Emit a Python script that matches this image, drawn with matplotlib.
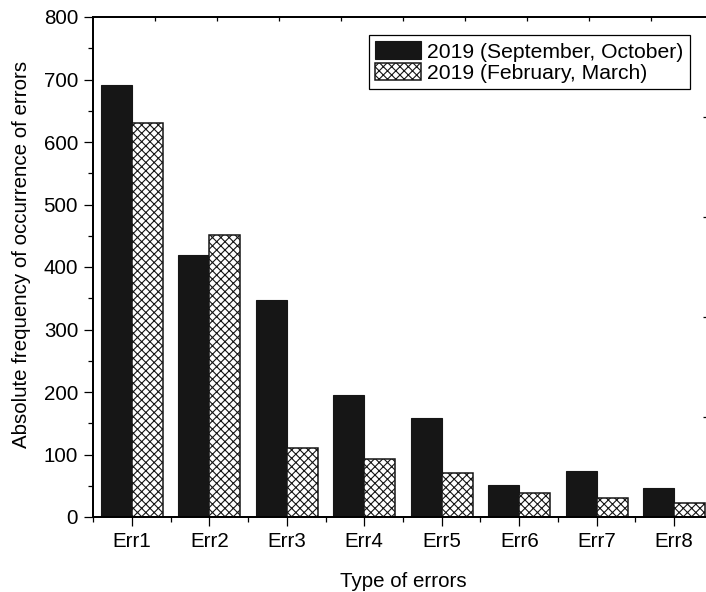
import numpy as np
import matplotlib.pyplot as plt
from matplotlib.ticker import MultipleLocator, FixedLocator

plt.rcParams['font.family'] = ['Liberation Sans', 'DejaVu Sans']
plt.rcParams['hatch.linewidth'] = 0.8

# error types and how often each one occurred in the two periods
categories = ['Err1', 'Err2', 'Err3', 'Err4', 'Err5', 'Err6', 'Err7', 'Err8']
sep_oct = [691, 420, 348, 195, 158, 52, 74, 46]
feb_mar = [631, 452, 111, 93, 71, 38, 31, 23]
series_names = ['2019 (September, October)', '2019 (February, March)']

fs = 14.8
W, H = 706, 592
fig = plt.figure(figsize=(W / 100, H / 100), dpi=100)
# plot frame: left 93px, right 713px (runs off the canvas), top 17px, bottom 517px
ax = fig.add_axes([93 / W, (H - 517) / H, 620 / W, 500 / H])

x = np.arange(len(categories))
w = 0.4
b1 = ax.bar(x - w / 2, sep_oct, w, color='#161616', edgecolor='#161616', linewidth=0.8,
            label=series_names[0], zorder=2)
b2 = ax.bar(x + w / 2, feb_mar, w, color='white', edgecolor='#161616', hatch='xxxx',
            linewidth=1.1, label=series_names[1], zorder=2)

ax.set_xlim(-0.5, len(categories) - 0.5)
ax.set_ylim(0, 800)
ax.set_xticks(x)
ax.set_xticklabels(categories)
ax.xaxis.set_minor_locator(FixedLocator(np.arange(-0.5, len(categories), 1.0)))
ax.yaxis.set_major_locator(MultipleLocator(100))
ax.yaxis.set_minor_locator(MultipleLocator(50))

ax.tick_params(which='major', direction='out', length=6.2, width=0.9,
               labelsize=fs, pad=4.5, top=False, right=False)
ax.tick_params(which='minor', direction='out', length=3.6, width=0.9,
               top=False, right=False)
for s in ax.spines.values():
    s.set_linewidth(1.1)

ax.set_xlabel('Type of errors', fontsize=fs, labelpad=15)
ax.set_ylabel('Absolute frequency of occurrence of errors', fontsize=fs, labelpad=9)
ax.yaxis.label.set_y(0.526)

# extra tick marks on the top and right frame lines
axt = ax.twiny()
axt.set_xlim(0, 1)
axt.set_xticks(np.arange(0.1, 1.0, 0.1))
axt.tick_params(axis='x', direction='in', length=3, width=0.9, labeltop=False)
axr = ax.twinx()
axr.set_ylim(0, 1)
axr.set_yticks([0.2, 0.4, 0.6, 0.8])
axr.tick_params(axis='y', direction='in', length=7, width=0.9, labelright=False)
for a in (axt, axr):
    for s in a.spines.values():
        s.set_linewidth(1.1)

leg = axr.legend([b1, b2], series_names, loc='upper right',
                 bbox_to_anchor=(690 / W, 1 - 35 / H),
                 bbox_transform=fig.transFigure, fontsize=15.2, frameon=True,
                 fancybox=False, framealpha=1, edgecolor='black',
                 borderpad=0.3, handlelength=2.15, handleheight=0.92,
                 handletextpad=0.32, labelspacing=0.05, borderaxespad=0)
leg.get_frame().set_linewidth(0.9)

fig.savefig('out.png', dpi=100)
